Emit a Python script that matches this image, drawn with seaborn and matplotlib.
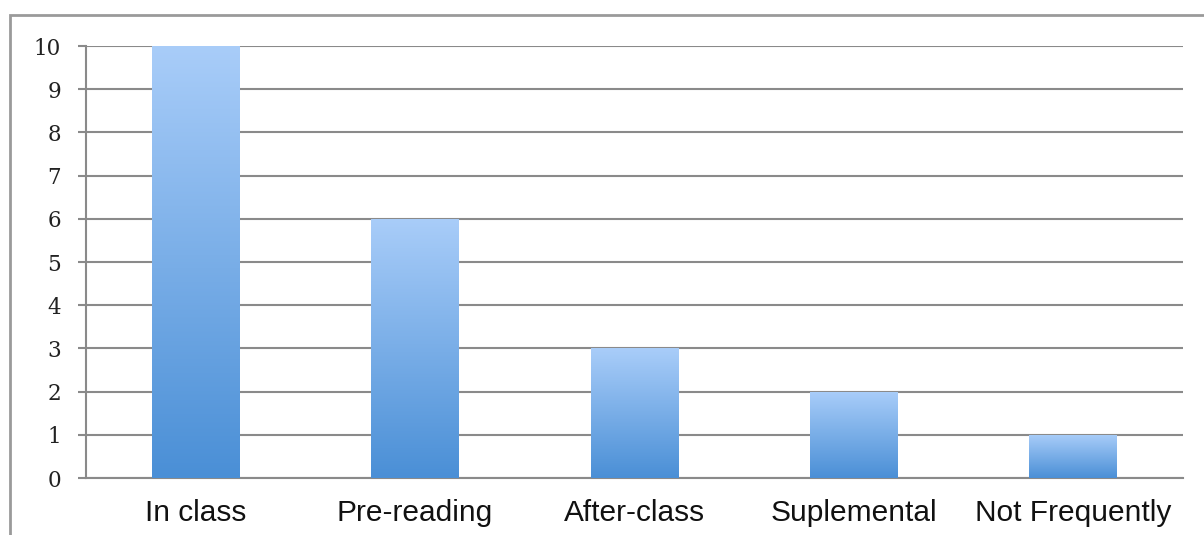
import numpy as np
import pandas as pd
import matplotlib
matplotlib.use("Agg")
import matplotlib.pyplot as plt
from matplotlib.colors import LinearSegmentedColormap
from matplotlib.patches import Rectangle
import seaborn as sns

categories = ["In class", "Pre-reading", "After-class", "Suplemental", "Not Frequently"]
counts = [10, 6, 3, 2, 1]
y_ticks = [0, 1, 2, 3, 4, 5, 6, 7, 8, 9, 10]

df = pd.DataFrame({"category": categories, "count": counts})

sns.set_theme(style="white")
plt.rcParams["font.family"] = ["Liberation Sans", "DejaVu Sans"]

fig = plt.figure(figsize=(12.04, 5.35), dpi=100)
ax = fig.add_axes([0.0714, 0.1065, 0.9112, 0.8075])

# outer chart frame
fig.patches.append(Rectangle((10 / 1204, -0.1), 1.2, 1 - 15 / 535 + 0.1,
                             transform=fig.transFigure, fill=False,
                             edgecolor="#9a9a9a", linewidth=2.0, zorder=0))

sns.barplot(data=df, x="category", y="count", ax=ax, width=0.4,
            color="#6aa4e6", saturation=1, zorder=3)

# vertical gradient fill on each bar
grad = LinearSegmentedColormap.from_list("barfill", ["#4a8fd6", "#a9cdf9"])
gimg = np.linspace(0, 1, 256).reshape(-1, 1)
for patch in ax.patches:
    x0, y0 = patch.get_x(), patch.get_y()
    w, h = patch.get_width(), patch.get_height()
    patch.set_facecolor("none")
    patch.set_edgecolor("none")
    im = ax.imshow(gimg, cmap=grad, origin="lower", aspect="auto",
                   extent=[x0, x0 + w, y0, y0 + h], zorder=3)
    im.set_clip_path(patch)

ax.set_xlim(-0.5, len(categories) - 0.5)
ax.set_ylim(0, 10)
ax.set_yticks(y_ticks)
ax.set_yticklabels([str(t) for t in y_ticks], family=["DejaVu Serif"],
                   fontsize=15.5, color="#222222")
ax.set_xticks(range(len(categories)))
ax.set_xticklabels(categories, fontsize=21.5, color="#111111")
ax.set_xticks(np.arange(-0.5, len(categories)), minor=True)
ax.tick_params(axis="x", which="major", length=0, pad=15)
ax.tick_params(axis="x", which="minor", length=6, width=1.5, color="#8a8a8a", direction="out")
ax.tick_params(axis="y", length=6, width=1.5, color="#8a8a8a", direction="out", pad=12, left=True)
ax.set_xlabel("")
ax.set_ylabel("")

ax.yaxis.grid(True, color="#8a8a8a", linewidth=1.5, zorder=1)
ax.set_axisbelow(True)
for side in ["top", "right"]:
    ax.spines[side].set_visible(False)
for side in ["left", "bottom"]:
    ax.spines[side].set_color("#8a8a8a")
    ax.spines[side].set_linewidth(1.5)

fig.savefig("out.png", dpi=100)
